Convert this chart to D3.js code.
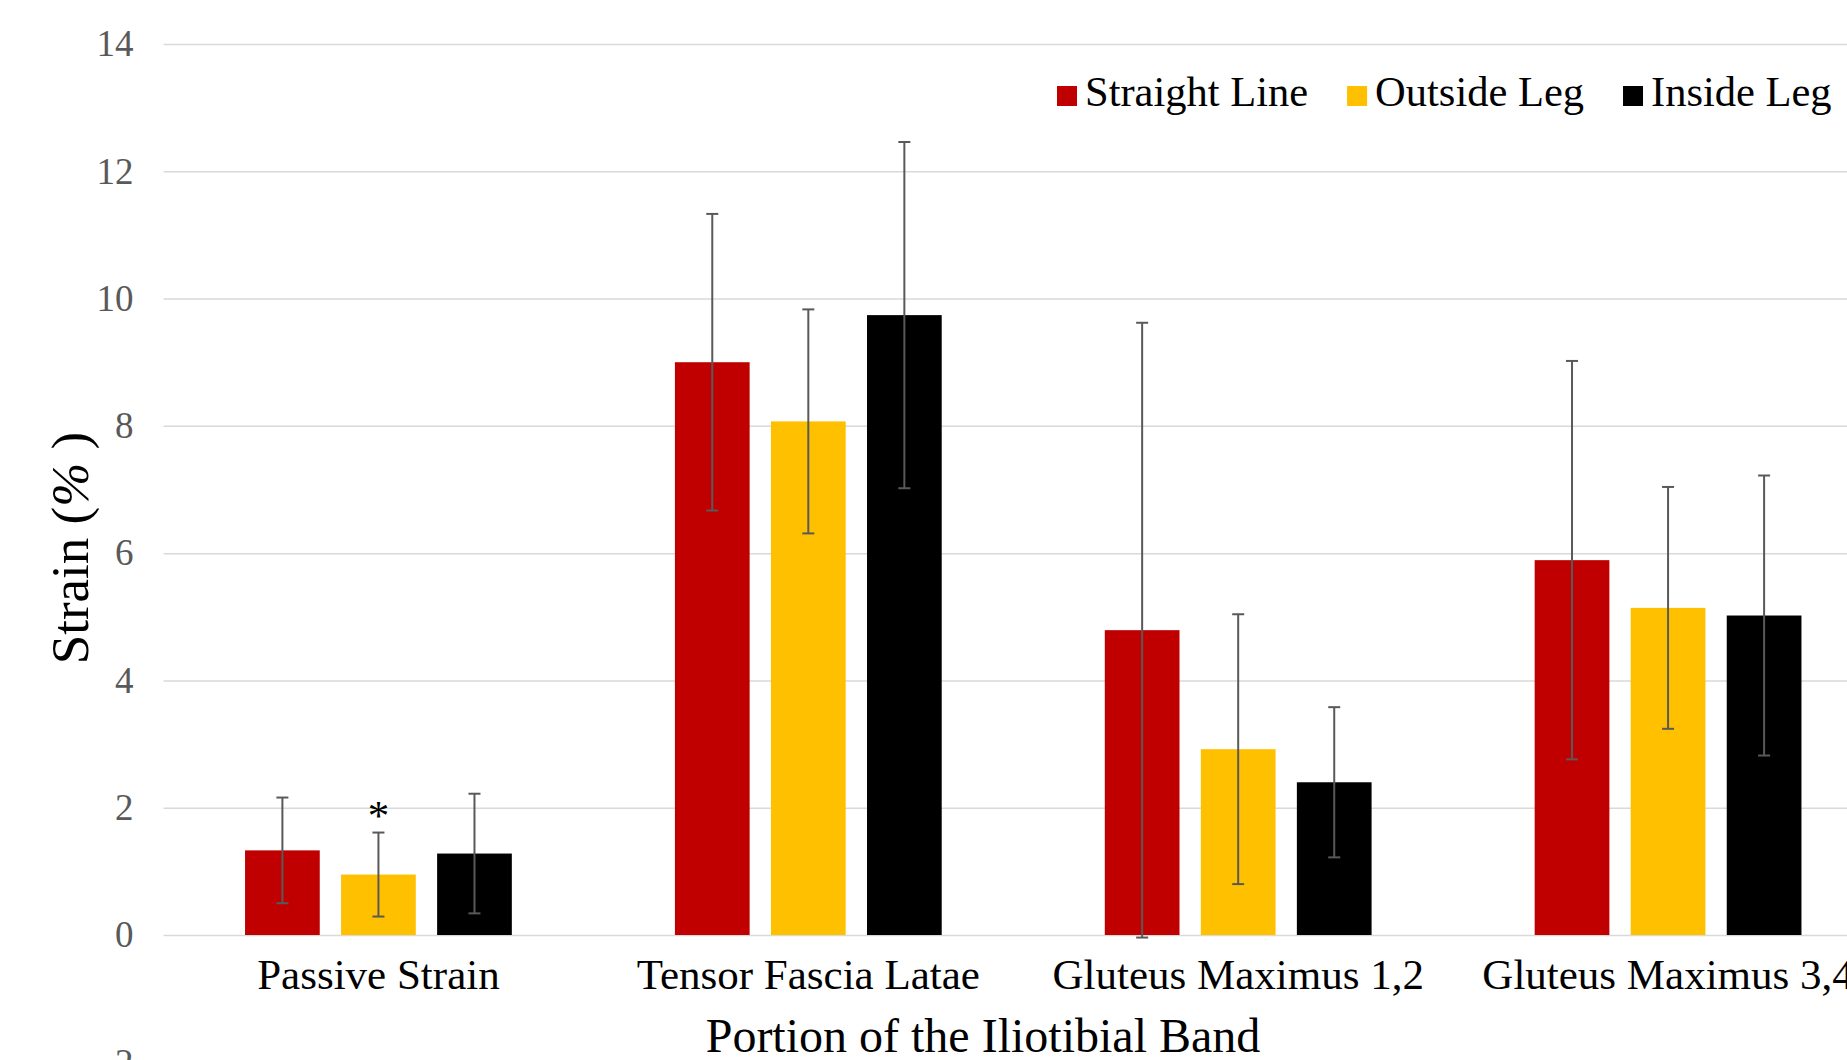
<!DOCTYPE html>
<html>
<head>
<meta charset="UTF-8">
<title>Iliotibial Band Strain</title>
<style>
body { margin:0; background:#fff; }
svg { display:block; font-family:"Liberation Serif","Times New Roman",serif; }
.grid line { stroke:#d9d9d9; stroke-width:1.5px; }
.grid text { fill:#595959; font-size:37px; font-family:"Liberation Serif","Times New Roman",serif; }
.cat { font-size:43px; fill:#000; }
.err { stroke:#595959; stroke-width:2px; }
.legend text { font-size:42.5px; fill:#000; }
</style>
</head>
<body>
<svg width="1847" height="1060"></svg>
<script src="https://cdn.jsdelivr.net/npm/d3@7"></script>
<script>
const categories = ['Passive Strain', 'Tensor Fascia Latae', 'Gluteus Maximus 1,2', 'Gluteus Maximus 3,4'];
const seriesNames = ['Straight Line', 'Outside Leg', 'Inside Leg'];
const seriesColors = ['#c00000', '#ffc000', '#000000'];
const straightLine = [1.33, 9.00, 4.79, 5.89];
const straightLineSD = [0.83, 2.33, 4.83, 3.13];
const outsideLeg = [0.95, 8.07, 2.92, 5.14];
const outsideLegSD = [0.66, 1.76, 2.12, 1.90];
const insideLeg = [1.28, 9.74, 2.40, 5.02];
const insideLegSD = [0.94, 2.72, 1.18, 2.20];
const yTicks = [-2, 0, 2, 4, 6, 8, 10, 12, 14];
// significance marker: category index, series index
const marks = [{ cat: 0, s: 1, text: '*' }];

const values = [straightLine, outsideLeg, insideLeg];
const sds = [straightLineSD, outsideLegSD, insideLegSD];
const rows = [];
categories.forEach((c, i) => {
  seriesNames.forEach((s, j) => rows.push({ cat: c, s: s, color: seriesColors[j], v: values[j][i], sd: sds[j][i] }));
});

const svg = d3.select('svg');
const left = 163.5, right = 1883;
const y = d3.scaleLinear().domain([-2, 14]).range([1062.3, 44]);
const x0 = d3.scaleBand().domain(categories).range([left, right]);
const x1 = d3.scaleBand().domain(seriesNames).range([0, x0.bandwidth()]).paddingInner(0.222).paddingOuter(0.849);

// gridlines + y labels
const grid = svg.append('g').attr('class', 'grid')
  .attr('transform', `translate(${left},0)`)
  .call(d3.axisLeft(y).tickValues(yTicks).tickSize(-(right - left)).tickPadding(30));
grid.select('.domain').remove();

// bars
svg.append('g').selectAll('rect')
  .data(rows)
  .enter().append('rect')
  .attr('x', d => x0(d.cat) + x1(d.s))
  .attr('width', x1.bandwidth())
  .attr('y', d => y(d.v))
  .attr('height', d => y(0) - y(d.v))
  .attr('fill', d => d.color);

// error bars
const cap = 6;
const err = svg.append('g').selectAll('g')
  .data(rows)
  .enter().append('g').attr('class', 'err')
  .attr('transform', d => `translate(${x0(d.cat) + x1(d.s) + x1.bandwidth() / 2},0)`);
err.append('line').attr('y1', d => y(d.v + d.sd)).attr('y2', d => y(d.v - d.sd));
err.append('line').attr('x1', -cap).attr('x2', cap).attr('y1', d => y(d.v + d.sd)).attr('y2', d => y(d.v + d.sd));
err.append('line').attr('x1', -cap).attr('x2', cap).attr('y1', d => y(d.v - d.sd)).attr('y2', d => y(d.v - d.sd));

// asterisk
svg.append('g').selectAll('text')
  .data(marks)
  .enter().append('text')
  .attr('class', 'cat')
  .attr('text-anchor', 'middle')
  .attr('x', d => x0(categories[d.cat]) + x1(seriesNames[d.s]) + x1.bandwidth() / 2)
  .attr('y', d => y(values[d.s][d.cat] + sds[d.s][d.cat]) - 3)
  .text(d => d.text);

// category labels
svg.append('g').selectAll('text')
  .data(categories)
  .enter().append('text')
  .attr('class', 'cat')
  .attr('text-anchor', 'middle')
  .attr('x', d => x0(d) + x0.bandwidth() / 2)
  .attr('y', 989)
  .text(d => d);

// axis titles
svg.append('text')
  .attr('x', 983).attr('y', 1052)
  .attr('text-anchor', 'middle')
  .style('font-size', '48px')
  .text('Portion of the Iliotibial Band');
const yt = svg.append('text')
  .attr('transform', 'translate(88,548) rotate(-90)')
  .attr('text-anchor', 'middle')
  .style('font-size', '53px');
yt.append('tspan').text('Strain (');
yt.append('tspan').style('font-style', 'italic').text('%');
yt.append('tspan').text(' )');

// legend
const legend = svg.append('g').attr('class', 'legend');
let lx = 1057;
seriesNames.forEach((s, i) => {
  legend.append('rect').attr('x', lx).attr('y', 86).attr('width', 20).attr('height', 20).attr('fill', seriesColors[i]);
  const t = legend.append('text').attr('x', lx + 28).attr('y', 105.5).text(s);
  lx += 28 + t.node().getComputedTextLength() + 39;
});
</script>
</body>
</html>
